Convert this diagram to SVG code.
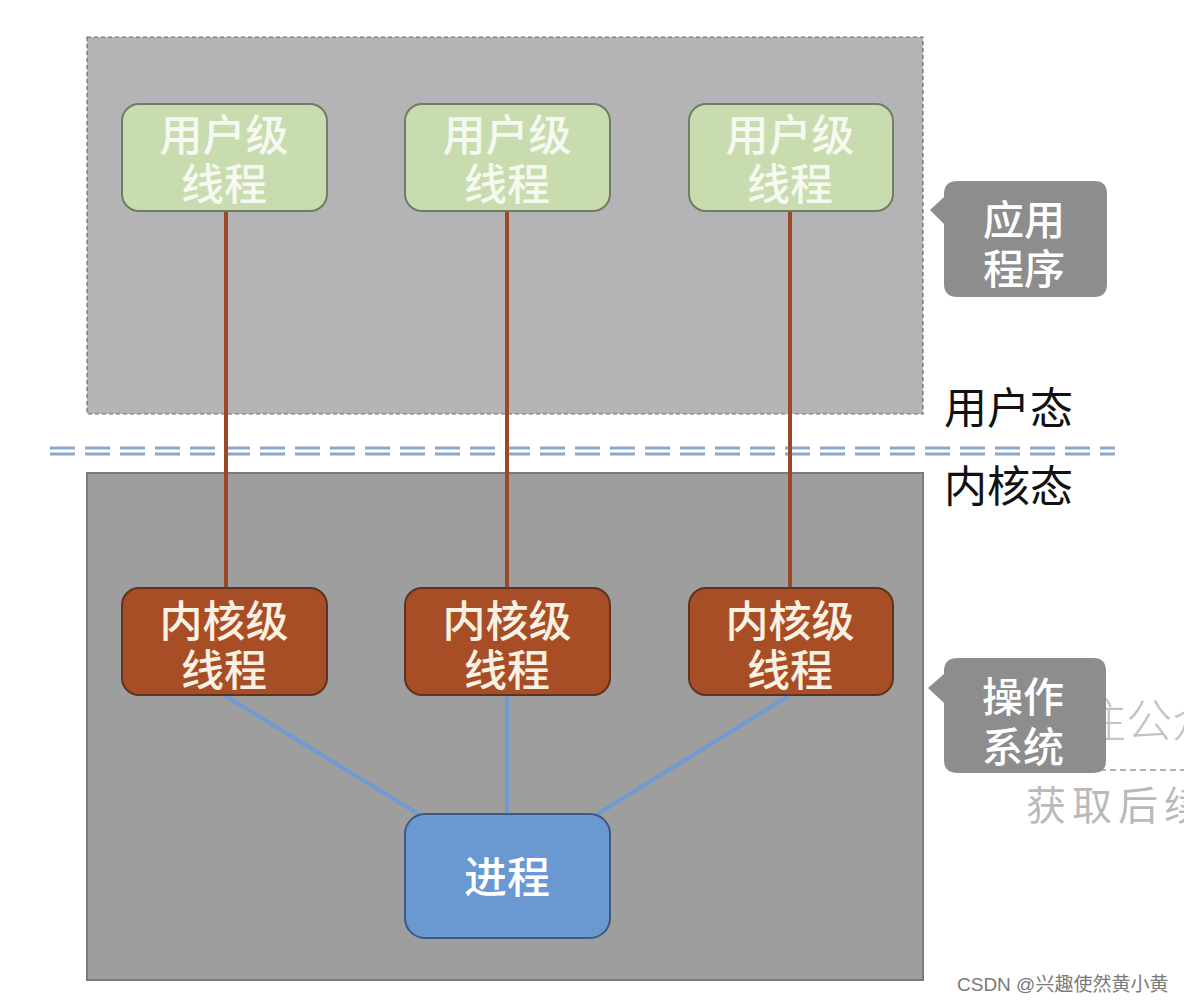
<svg xmlns="http://www.w3.org/2000/svg" width="1184" height="1003" viewBox="0 0 1184 1003">
<style>
.cn{font-family:"Noto Sans CJK SC","Liberation Sans",sans-serif;text-anchor:middle;font-weight:500}
.ut rect{fill:#c8dcaf;stroke:#6f7d63;stroke-width:2}
.ut text{fill:#f6f9ef;font-size:43px}
.kt rect{fill:#a84e26;stroke:#5e3320;stroke-width:2}
.kt text{fill:#fbf1e2;font-size:43px}
.bub path{fill:#8d8d8e}
.bub text{fill:#ffffff;font-size:41px}
.lbl{fill:#111;font-size:43px;text-anchor:start;font-weight:400}
.brn{stroke:#9a4826;stroke-width:4}
.blu{stroke:#6e9bd2;stroke-width:4}
</style>
<rect width="1184" height="1003" fill="#ffffff"/>
<g id="user-area">
<rect x="87" y="37" width="836" height="377" fill="#b4b4b6" stroke="#6d6d6d" stroke-width="1.2" stroke-dasharray="4 3"/>
</g>
<g id="kernel-area">
<rect x="87" y="473" width="836" height="507" fill="#9e9e9f" stroke="#7a7a7a" stroke-width="2"/>
</g>
<g id="divider" stroke="#8aa7cc" stroke-width="3" stroke-dasharray="25 10">
<line x1="50" y1="448" x2="1115" y2="448"/>
<line x1="50" y1="454" x2="1115" y2="454"/>
</g>
<g id="connectors">
<line class="brn" x1="226" y1="211" x2="226" y2="588"/>
<line class="brn" x1="507" y1="211" x2="507" y2="588"/>
<line class="brn" x1="790" y1="211" x2="790" y2="588"/>
<line class="blu" x1="224" y1="695" x2="420" y2="815"/>
<line class="blu" x1="507" y1="695" x2="507" y2="815"/>
<line class="blu" x1="790" y1="695" x2="596" y2="815"/>
</g>
<g id="ut1" class="ut cn"><rect x="122" y="104" width="205" height="107" rx="17"/><text x="224" y="151">用户级<tspan x="224" dy="49">线程</tspan></text></g>
<g id="ut2" class="ut cn"><rect x="405" y="104" width="205" height="107" rx="17"/><text x="507" y="151">用户级<tspan x="507" dy="49">线程</tspan></text></g>
<g id="ut3" class="ut cn"><rect x="689" y="104" width="204" height="107" rx="17"/><text x="790" y="151">用户级<tspan x="790" dy="49">线程</tspan></text></g>
<g id="kt1" class="kt cn"><rect x="122" y="588" width="205" height="107" rx="17"/><text x="224" y="637">内核级<tspan x="224" dy="49">线程</tspan></text></g>
<g id="kt2" class="kt cn"><rect x="405" y="588" width="205" height="107" rx="17"/><text x="507" y="637">内核级<tspan x="507" dy="49">线程</tspan></text></g>
<g id="kt3" class="kt cn"><rect x="689" y="588" width="204" height="107" rx="17"/><text x="790" y="637">内核级<tspan x="790" dy="49">线程</tspan></text></g>
<g id="process" class="cn"><rect x="405" y="814" width="205" height="124" rx="20" fill="#6a98d0" stroke="#3c5a80" stroke-width="2"/><text x="507" y="893" fill="#ffffff" font-size="43">进程</text></g>
<g id="watermark" font-family="'Noto Sans CJK SC',sans-serif" fill="#9a9a9a" fill-opacity="0.6">
<text x="1080" y="737" font-size="46" font-weight="300">注公众</text>
<line x1="1030" y1="770" x2="1184" y2="770" stroke="#9a9a9a" stroke-width="1.5" stroke-dasharray="6 4"/>
<text x="1026" y="820" font-size="40" letter-spacing="6" fill="#8a8a8a">获取后续</text>
</g>
<g id="bubble-app" class="bub cn"><path d="M958 181 H1094 Q1107 181 1107 194 V284 Q1107 297 1094 297 H958 Q944 297 944 284 V224 L930 210 L944 197 V194 Q944 181 958 181 Z"/><text x="1024" y="235">应用<tspan x="1024" dy="49">程序</tspan></text></g>
<g id="bubble-os" class="bub cn"><path d="M958 658 H1093 Q1106 658 1106 671 V760 Q1106 773 1093 773 H958 Q944 773 944 760 V703 L928 688 L944 674 V671 Q944 658 958 658 Z"/><text x="1023" y="712">操作<tspan x="1023" dy="50">系统</tspan></text></g>
<g id="state-labels" class="cn">
<text class="lbl" x="944" y="424">用户态</text>
<text class="lbl" x="944" y="502">内核态</text>
</g>
<text x="957" y="991" font-family="'Liberation Sans','Noto Sans CJK SC',sans-serif" font-size="19" fill="#7a7a7a">CSDN @兴趣使然黄小黄</text>
</svg>
